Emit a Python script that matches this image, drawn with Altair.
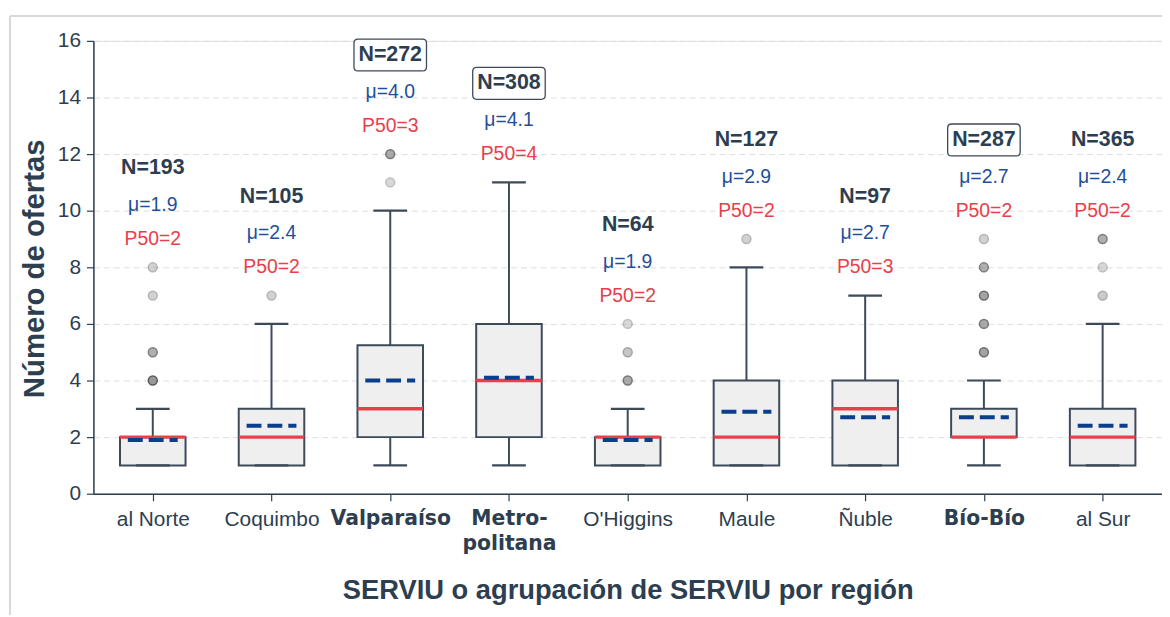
import json
import altair as alt
import pandas as pd

# ---------------- data ----------------
regions = ["al Norte", "Coquimbo", "Valparaíso", "Metropolitana", "O'Higgins",
           "Maule", "Ñuble", "Bío-Bío", "al Sur"]
n_obs = [193, 105, 272, 308, 64, 127, 97, 287, 365]
means = [1.9, 2.4, 4.0, 4.1, 1.9, 2.9, 2.7, 2.7, 2.4]
medians = [2, 2, 3, 4, 2, 2, 3, 2, 2]
q1 = [1, 1, 2, 2, 1, 1, 1, 2, 1]
q3 = [2, 3, 5.25, 6, 2, 4, 4, 3, 3]
whisker_low = [1, 1, 1, 1, 1, 1, 1, 1, 1]
whisker_high = [3, 6, 10, 11, 3, 8, 7, 4, 6]
highlight = [False, False, True, True, False, False, False, True, False]

outlier_region = [0, 0, 0, 0, 1, 2, 2, 4, 4, 4, 5, 7, 7, 7, 7, 7, 8, 8, 8]
outlier_value = [4, 5, 7, 8, 7, 11, 12, 4, 5, 6, 9, 5, 6, 7, 8, 9, 7, 8, 9]
outlier_alpha = [0.9, 0.7, 0.4, 0.4, 0.4, 0.35, 0.75, 0.75, 0.5, 0.35, 0.4,
                 0.8, 0.75, 0.8, 0.7, 0.4, 0.45, 0.35, 0.7]

axis_labels = ["al Norte", "Coquimbo", "Valparaíso", ["Metro-", "politana"], "O'Higgins",
               "Maule", "Ñuble", "Bío-Bío", "al Sur"]

# ---------------- derived tables ----------------
BOX_HALF = 0.276
CAP_HALF = 0.142
MEAN_HALF = 0.21

idx = list(range(len(regions)))
top = []
for i in idx:
    outs = [v for r, v in zip(outlier_region, outlier_value) if r == i]
    top.append(max([whisker_high[i]] + outs))

stats = pd.DataFrame({
    "idx": idx, "region": regions, "n": n_obs, "mean": means, "median": medians,
    "q1": q1, "q3": q3, "lo": whisker_low, "hi": whisker_high, "hl": highlight,
    "top": top,
})
stats["bx0"] = stats["idx"] - BOX_HALF
stats["bx1"] = stats["idx"] + BOX_HALF
stats["mx0"] = stats["idx"] - MEAN_HALF
stats["mx1"] = stats["idx"] + MEAN_HALF
stats["cx0"] = stats["idx"] - CAP_HALF
stats["cx1"] = stats["idx"] + CAP_HALF
stats["y_p50"] = stats["top"] + 1.0
stats["y_mu"] = stats["top"] + 2.2
stats["y_n"] = stats["top"] + 3.5
stats["t_p50"] = ["P50=%g" % m for m in medians]
stats["t_mu"] = ["μ=%.1f" % m for m in means]
stats["t_n"] = ["N=%d" % v for v in n_obs]

outliers = pd.DataFrame({"idx": outlier_region, "value": outlier_value, "alpha": outlier_alpha})

# ---------------- styling ----------------
DARK = "#2c3e50"
BOXC = "#3d4a5a"
RED = "#e8404a"
BLUE = "#1f4f9a"
MEANC = "#0b3f8c"

bold_idx = [i for i in idx if highlight[i]]
bold_test = " || ".join("datum.value == %d" % i for i in bold_idx)

xscale = alt.Scale(domain=[-0.5, len(regions) - 0.5], nice=False, zero=False)
yscale = alt.Scale(domain=[0, 16], nice=False)

x_axis = alt.Axis(
    values=idx,
    labelExpr=json.dumps(axis_labels, ensure_ascii=False) + "[datum.value]",
    title="SERVIU o agrupación de SERVIU por región",
    titleFont="Liberation Sans", titleFontSize=27.5, titleFontWeight="bold", titleColor=DARK,
    titleY=97, titleBaseline="middle",
    labelFont={"condition": {"test": bold_test, "value": "DejaVu Sans"}, "value": "Liberation Sans"},
    labelFontWeight={"condition": {"test": bold_test, "value": "bold"}, "value": "normal"},
    labelFontSize={"condition": {"test": bold_test, "value": 20.5}, "value": 21},
    labelColor=DARK, labelPadding=8, labelLineHeight=25,
    labelFlush=False, labelOverlap=False, labelBound=False,
    tickSize=7, tickColor=DARK, domainColor=DARK, domainWidth=1.5, tickWidth=1.2,
    grid=False,
)
y_axis = alt.Axis(
    values=list(range(0, 17, 2)),
    title="Número de ofertas",
    titleFont="Liberation Sans", titleFontSize=29.5, titleFontWeight="bold", titleColor=DARK,
    titleX=-59, titleY=229, titleAngle=-90, titleAlign="center", titleBaseline="middle",
    labelFont="Liberation Sans", labelFontSize=21, labelColor=DARK, labelPadding=6,
    tickSize=7, tickColor=DARK, domainColor=DARK, domainWidth=1.5, tickWidth=1.2,
    grid=True, gridDash=[6, 4], gridColor="#dedede", gridWidth=1,
)

base = alt.Chart(stats)

box = base.mark_rect(fill="#efefef", stroke=BOXC, strokeWidth=2).encode(
    x=alt.X("bx0:Q", scale=xscale, axis=x_axis),
    x2="bx1",
    y=alt.Y("q1:Q", scale=yscale, axis=y_axis),
    y2="q3",
)
whisk_up = base.mark_rule(color=BOXC, strokeWidth=2).encode(x="idx:Q", y="q3:Q", y2="hi")
whisk_dn = base.mark_rule(color=BOXC, strokeWidth=2).encode(x="idx:Q", y="lo:Q", y2="q1")
cap_up = base.mark_rule(color=BOXC, strokeWidth=2.2).encode(x="cx0:Q", x2="cx1", y="hi:Q")
cap_dn = base.mark_rule(color=BOXC, strokeWidth=2.2).encode(x="cx0:Q", x2="cx1", y="lo:Q")
med = base.mark_rule(color=RED, strokeWidth=3.5).encode(x="bx0:Q", x2="bx1", y="median:Q")
mean_line = base.mark_rule(color=MEANC, strokeWidth=4, strokeDash=[15, 6]).encode(
    x="mx0:Q", x2="mx1", y="mean:Q")

pts = alt.Chart(outliers).mark_point(
    shape="circle", filled=True, size=80, fill="#8e8e8e", stroke="#4a4a4a", strokeWidth=1.5
).encode(
    x="idx:Q", y="value:Q",
    opacity=alt.Opacity("alpha:Q", scale=None, legend=None),
)

frame_path = ("M-0.89,-0.44 H0.89 Q1,-0.44 1,-0.33 V0.33 Q1,0.44 0.89,0.44 "
              "H-0.89 Q-1,0.44 -1,0.33 V-0.33 Q-1,-0.44 -0.89,-0.44 Z")
nbox = base.transform_filter("datum.hl").mark_point(
    shape=frame_path, size=73 * 73, filled=False, stroke=BOXC, strokeWidth=1.3, fill="white",
    opacity=1,
).encode(x="idx:Q", y="y_n:Q")

t_n = base.mark_text(font="Liberation Sans", fontSize=21.5, fontWeight="bold", color=DARK,
                     baseline="middle").encode(x="idx:Q", y="y_n:Q", text="t_n:N")
t_mu = base.mark_text(font="Liberation Sans", fontSize=19.5, color=BLUE,
                      baseline="middle").encode(x="idx:Q", y="y_mu:Q", text="t_mu:N")
t_p50 = base.mark_text(font="Liberation Sans", fontSize=19.5, color=RED,
                       baseline="middle").encode(x="idx:Q", y="y_p50:Q", text="t_p50:N")

# light grey frame of the original figure panel (decoration)
frame_top = alt.Chart(stats).mark_rule(color="#d9d9d9", strokeWidth=2).encode(
    x=alt.value(-84), x2=alt.value(1076), y=alt.value(-25))
frame_left = alt.Chart(stats).mark_rule(color="#d9d9d9", strokeWidth=2).encode(
    x=alt.value(-84), y=alt.value(-25), y2=alt.value(600))

chart = alt.layer(
    frame_top, frame_left,
    whisk_up, whisk_dn, box, cap_up, cap_dn, med, mean_line, pts, nbox, t_n, t_mu, t_p50
).properties(
    width=1076, height=456,
    autosize=alt.AutoSizeParams(type="none"),
    padding={"left": 86, "top": 31, "right": 0, "bottom": 120},
).configure_view(stroke=None).configure(background="white")

chart.save("out.html", embed_options={"renderer": "svg", "actions": False})
